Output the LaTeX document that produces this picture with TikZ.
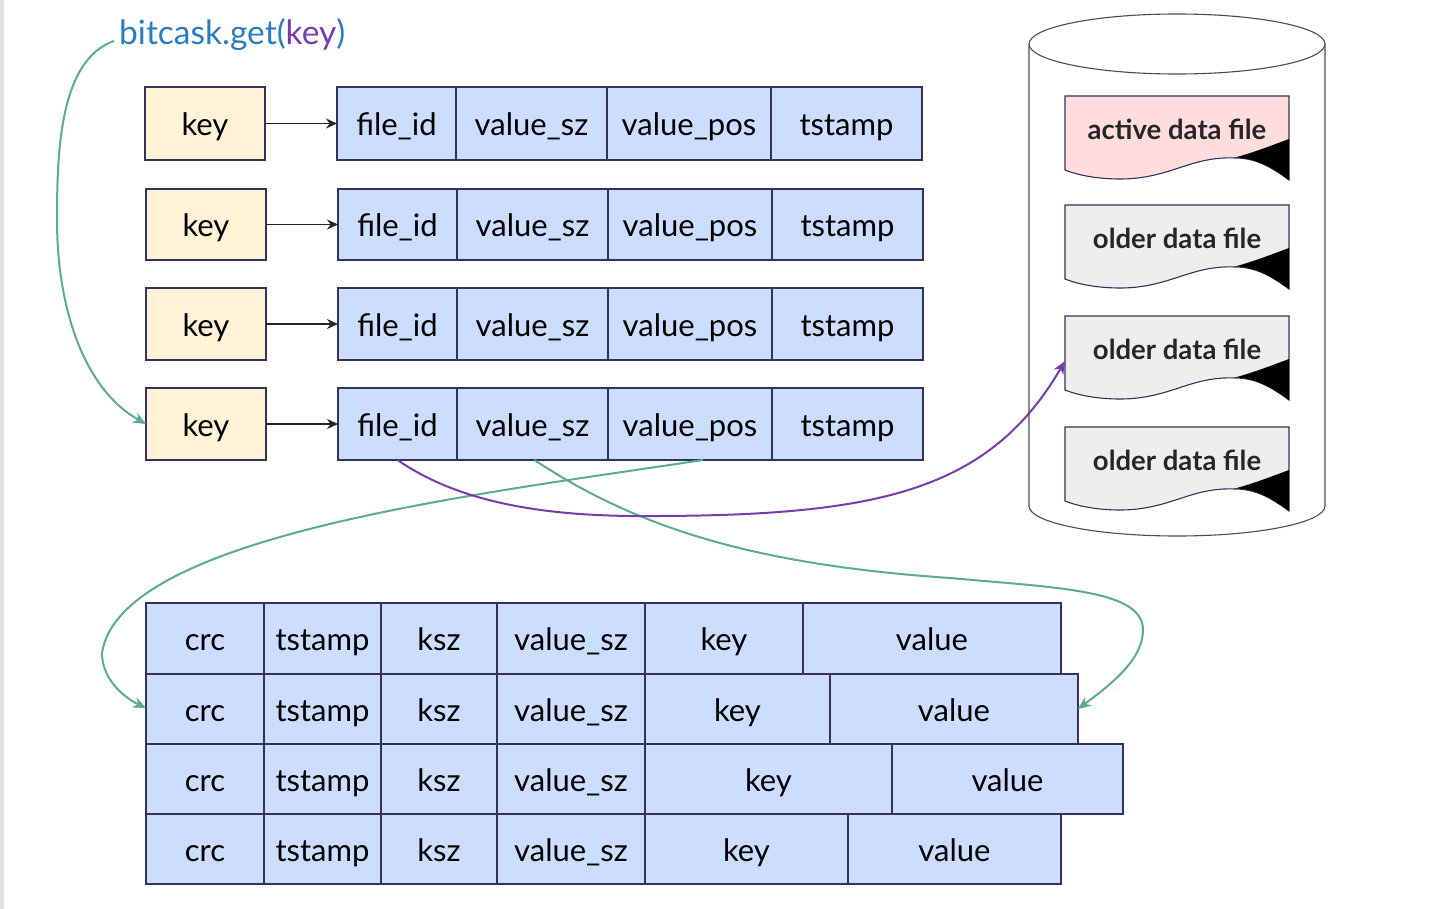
\documentclass[tikz,border=0pt]{standalone}
\usepackage{fontspec}
\setmainfont{Lato}
\usepackage{xcolor}
\usetikzlibrary{arrows.meta, positioning}
\definecolor{cellblue}{RGB}{204, 221, 255}
\definecolor{keycream}{RGB}{255, 242, 214}
\definecolor{edgenavy}{RGB}{50, 50, 90}
\definecolor{linkgreen}{RGB}{90, 170, 150}
\definecolor{linkpurple}{RGB}{120, 60, 170}
\definecolor{titleblue}{RGB}{40, 125, 195}
\definecolor{activepink}{RGB}{255, 221, 221}
\definecolor{oldergray}{RGB}{238, 238, 238}

\newcommand{\datafile}[4]{
  \begin{scope}[shift={(0,#2)}]
    \draw[draw=edgenavy, fill=#3, line width=1.1pt] (1065,0) -- (1289,0) -- (1289,84)
      .. controls (1270,70) and (1255,62) .. (1235,62)
      .. controls (1190,60) and (1170,83) .. (1120,83)
      .. controls (1100,83) and (1080,80) .. (1065,74) -- cycle;
    \fill[black] (1289,43) .. controls (1270,50) and (1255,56) .. (1235,61.5)
      .. controls (1255,62) and (1270,70) .. (1289,84) -- cycle;
    \node[filetext] (#1) at (1177,33) {#4};
  \end{scope}
}

\begin{document}
\begin{tikzpicture}[
  x=1pt, y=-1pt,
  cell/.style={rectangle, draw=edgenavy, fill=cellblue, line width=1.2pt, outer sep=0pt, inner sep=0pt,
               text height=30pt, text depth=6pt, font=\fontsize{31}{34}\selectfont},
  keybox/.style={cell, fill=keycream, minimum width=120pt},
  filetext/.style={rectangle, minimum width=224pt, minimum height=66pt, inner sep=0pt, outer sep=0pt,
                   font=\fontsize{27.5}{30}\selectfont\bfseries, text=black!85},
  arrow/.style={-{Stealth[length=11pt, width=10pt]}, line width=1.7pt, color=black!85},
  greenlink/.style={-{Stealth[length=13pt, width=11pt]}, line width=2pt, color=linkgreen},
  purplelink/.style={-{Stealth[length=13pt, width=11pt]}, line width=2pt, color=linkpurple}
]
\useasboundingbox (0,0) rectangle (1442,909);
\fill[black!12] (0,0) rectangle (4,909);

% Title
\node[anchor=west, inner sep=0pt, text=titleblue, font=\fontsize{33.5}{36}\selectfont] (title) at (119,35) {bitcask.get({\color{linkpurple}key})};

% Index rows
\node[keybox, minimum height=73pt] (key1) at (205,123.5) {key};
\node[cell, minimum height=73pt, minimum width=119pt, right=72pt of key1] (fid1) {file\_id};
\node[cell, minimum height=73pt, minimum width=151pt, right=0pt of fid1] (vsz1) {value\_sz};
\node[cell, minimum height=73pt, minimum width=164pt, right=0pt of vsz1] (vpos1) {value\_pos};
\node[cell, minimum height=73pt, minimum width=151pt, right=0pt of vpos1] (ts1) {tstamp};

\node[keybox, minimum height=71pt] (key2) at (206,224.5) {key};
\node[cell, minimum height=71pt, minimum width=119pt, right=72pt of key2] (fid2) {file\_id};
\node[cell, minimum height=71pt, minimum width=151pt, right=0pt of fid2] (vsz2) {value\_sz};
\node[cell, minimum height=71pt, minimum width=164pt, right=0pt of vsz2] (vpos2) {value\_pos};
\node[cell, minimum height=71pt, minimum width=151pt, right=0pt of vpos2] (ts2) {tstamp};

\node[keybox, minimum height=72pt] (key3) at (206,324) {key};
\node[cell, minimum height=72pt, minimum width=119pt, right=72pt of key3] (fid3) {file\_id};
\node[cell, minimum height=72pt, minimum width=151pt, right=0pt of fid3] (vsz3) {value\_sz};
\node[cell, minimum height=72pt, minimum width=164pt, right=0pt of vsz3] (vpos3) {value\_pos};
\node[cell, minimum height=72pt, minimum width=151pt, right=0pt of vpos3] (ts3) {tstamp};

\node[keybox, minimum height=72pt] (key4) at (206,424) {key};
\node[cell, minimum height=72pt, minimum width=119pt, right=72pt of key4] (fid4) {file\_id};
\node[cell, minimum height=72pt, minimum width=151pt, right=0pt of fid4] (vsz4) {value\_sz};
\node[cell, minimum height=72pt, minimum width=164pt, right=0pt of vsz4] (vpos4) {value\_pos};
\node[cell, minimum height=72pt, minimum width=151pt, right=0pt of vpos4] (ts4) {tstamp};

% Log rows
\node[cell, minimum height=71pt, minimum width=118pt] (crc1) at (205,638.5) {crc};
\node[cell, minimum height=71pt, minimum width=117pt, right=0pt of crc1] (lts1) {tstamp};
\node[cell, minimum height=71pt, minimum width=116pt, right=0pt of lts1] (ksz1) {ksz};
\node[cell, minimum height=71pt, minimum width=148pt, right=0pt of ksz1] (lsz1) {value\_sz};
\node[cell, minimum height=71pt, minimum width=158pt, right=0pt of lsz1] (lkey1) {key};
\node[cell, minimum height=71pt, minimum width=258pt, right=0pt of lkey1] (lval1) {value};

\node[cell, minimum height=70pt, minimum width=118pt, below=0pt of crc1] (crc2) {crc};
\node[cell, minimum height=70pt, minimum width=117pt, right=0pt of crc2] (lts2) {tstamp};
\node[cell, minimum height=70pt, minimum width=116pt, right=0pt of lts2] (ksz2) {ksz};
\node[cell, minimum height=70pt, minimum width=148pt, right=0pt of ksz2] (lsz2) {value\_sz};
\node[cell, minimum height=70pt, minimum width=185pt, right=0pt of lsz2] (lkey2) {key};
\node[cell, minimum height=70pt, minimum width=248pt, right=0pt of lkey2] (lval2) {value};

\node[cell, minimum height=70pt, minimum width=118pt, below=0pt of crc2] (crc3) {crc};
\node[cell, minimum height=70pt, minimum width=117pt, right=0pt of crc3] (lts3) {tstamp};
\node[cell, minimum height=70pt, minimum width=116pt, right=0pt of lts3] (ksz3) {ksz};
\node[cell, minimum height=70pt, minimum width=148pt, right=0pt of ksz3] (lsz3) {value\_sz};
\node[cell, minimum height=70pt, minimum width=247pt, right=0pt of lsz3] (lkey3) {key};
\node[cell, minimum height=70pt, minimum width=231pt, right=0pt of lkey3] (lval3) {value};

\node[cell, minimum height=70pt, minimum width=118pt, below=0pt of crc3] (crc4) {crc};
\node[cell, minimum height=70pt, minimum width=117pt, right=0pt of crc4] (lts4) {tstamp};
\node[cell, minimum height=70pt, minimum width=116pt, right=0pt of lts4] (ksz4) {ksz};
\node[cell, minimum height=70pt, minimum width=148pt, right=0pt of ksz4] (lsz4) {value\_sz};
\node[cell, minimum height=70pt, minimum width=203pt, right=0pt of lsz4] (lkey4) {key};
\node[cell, minimum height=70pt, minimum width=213pt, right=0pt of lkey4] (lval4) {value};

% Disk
\draw[draw=black!70, line width=1.1pt, fill=white] (1029,44) -- (1029,506)
  arc[start angle=180, end angle=360, x radius=148pt, y radius=30pt] -- (1325,44);
\draw[draw=black!70, line width=1.1pt, fill=white] (1177,44) ellipse[x radius=148pt, y radius=30pt];
\datafile{active}{96}{activepink}{active data file}
\datafile{older1}{205}{oldergray}{older data file}
\datafile{older2}{316}{oldergray}{older data file}
\datafile{older3}{427}{oldergray}{older data file}

% Arrows
\draw[arrow] (key1) -- (fid1);
\draw[arrow] (key2) -- (fid2);
\draw[arrow] (key3) -- (fid3);
\draw[arrow] (key4) -- (fid4);
\draw[greenlink] ([xshift=-5pt, yshift=-6pt]title.west) .. controls (60,60) and (57,150) .. (57,220)
  .. controls (57,310) and (85,390) .. (key4.west);
\draw[greenlink] ([xshift=13pt]vpos4.south) .. controls (480,494) and (120,535) .. (102,653)
  .. controls (102,680) and (125,698) .. ([yshift=1pt]crc2.west);
\draw[greenlink] ([xshift=2pt]vsz4.south) .. controls (640,530) and (760,565) .. (950,578)
  .. controls (1060,588) and (1143,590) .. (1143,630)
  .. controls (1143,660) and (1110,685) .. (lval2.east);
\draw[purplelink] (fid4.south) .. controls (470,510) and (570,517) .. (660,516)
  .. controls (880,515) and (990,490) .. ([yshift=-12pt]older2.west);

\end{tikzpicture}
\end{document}
